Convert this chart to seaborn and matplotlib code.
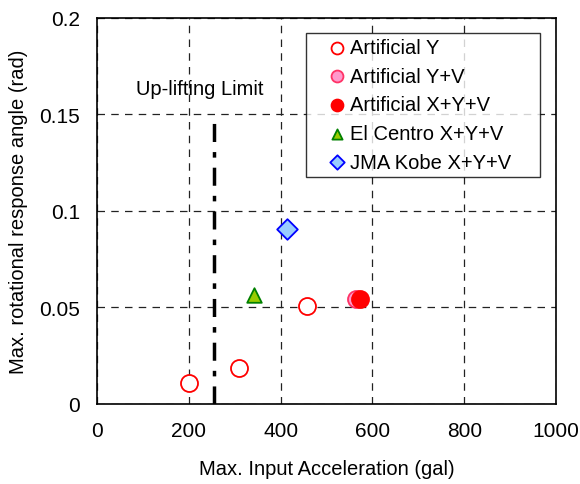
import matplotlib
matplotlib.use("Agg")
import matplotlib.pyplot as plt
import seaborn as sns
import pandas as pd

sns.set_theme(style="white")
plt.rcParams['font.family'] = ['Liberation Sans', 'DejaVu Sans']
plt.rcParams.update({"text.color": "black", "axes.labelcolor": "black",
                     "xtick.color": "black", "ytick.color": "black"})

art_y_x = [200, 310, 457]
art_y_y = [0.011, 0.0185, 0.0505]
art_yv_x = [564]
art_yv_y = [0.0543]
art_xyv_x = [573]
art_xyv_y = [0.0543]
elc_x = [342]
elc_y = [0.0565]
kobe_x = [414]
kobe_y = [0.0905]

limit_x = 255
limit_top = 0.149
limit_label = "Up-lifting Limit"

xticks = [0, 200, 400, 600, 800, 1000]
yticks = [0, 0.05, 0.1, 0.15, 0.2]
ytick_labels = ["0", "0.05", "0.1", "0.15", "0.2"]

fig = plt.figure(figsize=(5.8, 4.85), dpi=100)
ax = fig.add_axes([0.167, 0.165, 0.792, 0.796])

series = [
    ("Artificial Y", art_y_x, art_y_y, "o", "white", "#FF0000", 150),
    ("Artificial Y+V", art_yv_x, art_yv_y, "o", "#FF99CC", "#FF3366", 150),
    ("Artificial X+Y+V", art_xyv_x, art_xyv_y, "o", "#FF0000", "#FF0000", 150),
    ("El Centro X+Y+V", elc_x, elc_y, "^", "#99CC00", "#008000", 110),
    ("JMA Kobe X+Y+V", kobe_x, kobe_y, "D", "#99CCFF", "#0000FF", 110),
]

for lab, xs, ys, m, fc, ec, s in series:
    df = pd.DataFrame({"x": xs, "y": ys})
    sns.scatterplot(data=df, x="x", y="y", marker=m, s=s, color=fc,
                    edgecolor=ec, linewidth=1.3, ax=ax, label=lab, zorder=5)

ax.plot([limit_x, limit_x], [0, limit_top], color="black", lw=2.5,
        linestyle=(0, (5.2, 2.9, 1.6, 2.9)), zorder=4)
ax.text(224, 0.1635, limit_label, ha="center", va="center", fontsize=14.5)

ax.set_xlim(0, 1000)
ax.set_ylim(0, 0.2)
ax.set_xticks(xticks)
ax.set_yticks(yticks)
ax.set_yticklabels(ytick_labels)
ax.tick_params(axis="both", labelsize=15, direction="in", length=3,
               width=1, color="black", pad=12)
ax.grid(True, color="#222222", linestyle=(0, (6, 5)), linewidth=0.9)
for sp in ax.spines.values():
    sp.set_color("black")
    sp.set_linewidth(1.2)

ax.set_xlabel("Max. Input Acceleration (gal)", fontsize=14.5, labelpad=14)
ax.set_ylabel("Max. rotational response angle (rad)", fontsize=14.5, labelpad=8)

leg = ax.legend(loc="upper left", bbox_to_anchor=(0.455, 0.0, 0.510, 0.961),
                mode="expand", borderaxespad=0, fontsize=14.5,
                frameon=True, fancybox=False, edgecolor="black",
                handletextpad=-0.65, labelspacing=0.48, borderpad=0.25,
                handlelength=2.6, markerscale=0.7)
leg.get_frame().set_linewidth(1.0)

fig.savefig("out.png", dpi=100)
